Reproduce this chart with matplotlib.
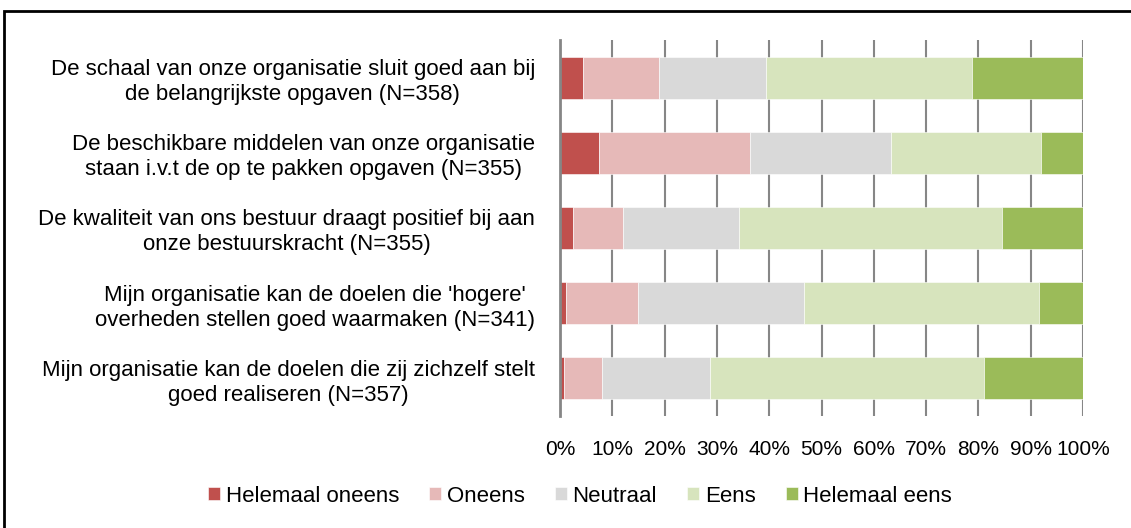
import matplotlib
matplotlib.use("Agg")
import matplotlib.pyplot as plt
from matplotlib.patches import Rectangle
import numpy as np

plt.rcParams['font.family'] = ['Liberation Sans', 'DejaVu Sans']

statements = [
    "De schaal van onze organisatie sluit goed aan bij\nde belangrijkste opgaven (N=358)",
    "De beschikbare middelen van onze organisatie\nstaan i.v.t de op te pakken opgaven (N=355)",
    "De kwaliteit van ons bestuur draagt positief bij aan\nonze bestuurskracht (N=355)",
    "Mijn organisatie kan de doelen die 'hogere'\noverheden stellen goed waarmaken (N=341)",
    "Mijn organisatie kan de doelen die zij zichzelf stelt\ngoed realiseren (N=357)",
]
categories = ["Helemaal oneens", "Oneens", "Neutraal", "Eens", "Helemaal eens"]
helemaal_oneens = [4.4, 7.5, 2.5, 1.2, 0.7]
oneens = [14.5, 28.8, 9.5, 13.7, 7.4]
neutraal = [20.5, 27.0, 22.3, 31.8, 20.5]
eens = [39.4, 28.7, 50.3, 44.8, 52.4]
helemaal_eens = [21.2, 8.0, 15.4, 8.5, 19.0]
colors = ["#C0504D", "#E6B9B8", "#D9D9D9", "#D7E4BD", "#9BBB59"]
xticks = [0, 10, 20, 30, 40, 50, 60, 70, 80, 90, 100]

series = [helemaal_oneens, oneens, neutraal, eens, helemaal_eens]

W, H = 1131, 528
fig = plt.figure(figsize=(W / 100, H / 100), dpi=100)
ax = fig.add_axes([560 / W, 1 - 416 / H, 523 / W, 376 / H])

y = np.arange(len(statements))[::-1]
left = np.zeros(len(statements))
for name, vals, col in zip(categories, series, colors):
    vals = np.array(vals)
    ax.barh(y, vals, left=left, height=0.56, color=col, label=name,
            edgecolor='white', linewidth=0.4, zorder=3)
    left += vals

ax.set_xlim(0, 100)
ax.set_ylim(-0.5, len(statements) - 0.5)
ax.set_xticks(xticks)
ax.set_xticklabels([f"{t}%" for t in xticks], fontsize=15)
ax.set_yticks(y)
ax.set_yticklabels(statements, fontsize=16, multialignment='center',
                   linespacing=1.25)
ax.tick_params(axis='both', length=0)
ax.tick_params(axis='y', pad=18)
ax.tick_params(axis='x', pad=17)
ax.grid(axis='x', color='#868686', linewidth=1.5, zorder=1)
for s in ['top', 'right', 'bottom']:
    ax.spines[s].set_visible(False)
ax.spines['left'].set_color('#868686')
ax.spines['left'].set_linewidth(2)
ax.spines['left'].set_zorder(4)

leg = fig.legend(loc='center', bbox_to_anchor=(580 / W, 1 - 496 / H), ncol=5,
                 frameon=False, fontsize=16, handlelength=0.55, handleheight=0.55,
                 handletextpad=0.25, columnspacing=1.35)

# outer frame around the chart
fig.patches.append(Rectangle((3.5 / W, -0.1), 1.2, 1 - 10.5 / H + 0.1,
                             transform=fig.transFigure, fill=False,
                             edgecolor='black', linewidth=2, zorder=10))

fig.savefig("out.png", dpi=100)
